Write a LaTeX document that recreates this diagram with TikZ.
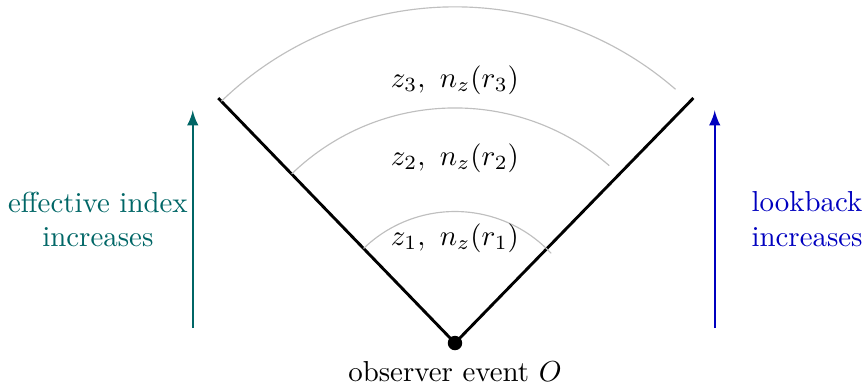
\documentclass[tikz,border=0pt]{standalone}
\usepackage{amsmath, amssymb}
\usepackage{xcolor}
\usepackage{tikz}
\usetikzlibrary{calc, positioning}

\colorlet{indexcol}{teal!80!black}
\colorlet{lookcol}{blue!75!black}

\begin{document}
\begin{tikzpicture}[>=latex,
    cone/.style={thick, line width=1pt},
    shell/.style={gray!50, line width=0.4pt},
    dot/.style={circle, fill=black, inner sep=0pt, minimum size=5pt}]
    % Khung hình
    \useasboundingbox (-5.535,-0.535) rectangle (4.976,4.173);

    % Nón ánh sáng
    \coordinate (L) at (-2.88,2.98);
    \coordinate (R) at (2.90,2.98);
    \node[dot] (O) at (0,0) {};
    \draw[cone] (L) -- (O.center) -- (R);
    \node[below=0pt of O] (obs) {observer event $O$};

    % Các cung
    \foreach \r/\e in {1.6/43, 2.86/49, 4.09/49} {
        \draw[shell] (134:\r) arc[start angle=134, end angle=\e, radius=\r];
    }
    \foreach \i/\y in {1/1.28, 2/2.25, 3/3.2} {
        \node (z\i) at (0,\y) {$z_\i,\ n_z(r_\i)$};
    }

    % Mũi tên hai bên
    \coordinate (Lb) at (-3.19,0.18);
    \coordinate (Lt) at (-3.19,2.83);
    \coordinate (Rb) at (3.16,0.18);
    \coordinate (Rt) at (3.16,2.83);
    \draw[->, thick, indexcol] (Lb) -- (Lt)
        node[midway, left=-2pt, align=center, text=indexcol] (eff) {effective index\\increases};
    \draw[->, thick, lookcol] (Rb) -- (Rt)
        node[midway, right=9pt, align=center, text=lookcol] (look) {lookback\\increases};
\end{tikzpicture}
\end{document}
